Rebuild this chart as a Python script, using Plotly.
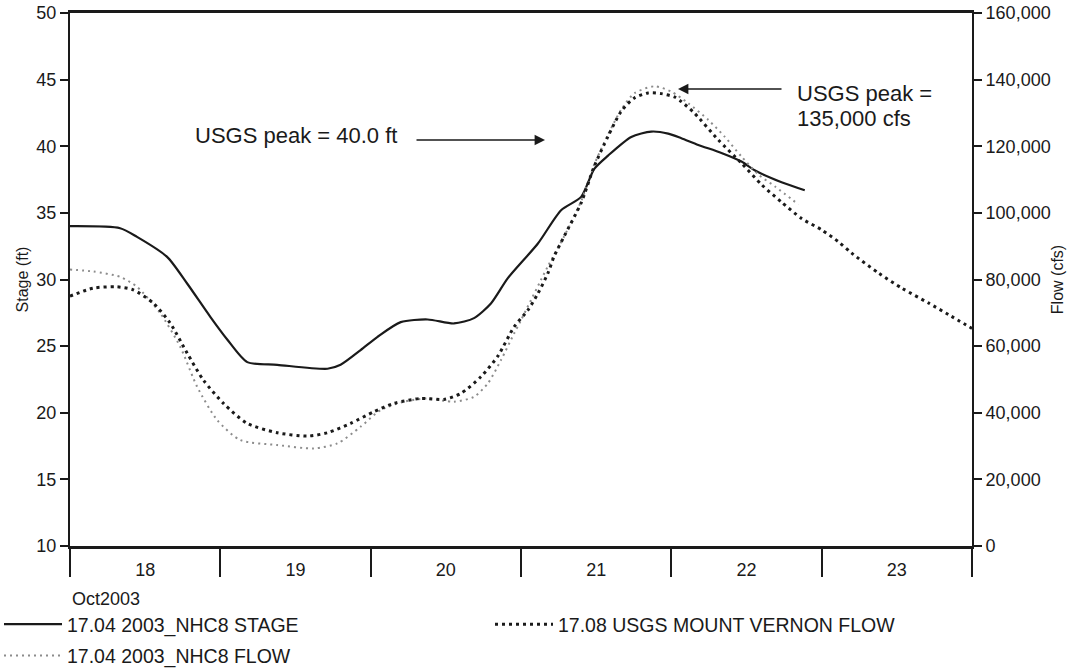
import pandas as pd
import plotly.graph_objects as go

START = pd.Timestamp("2003-10-18")

# ---- data (hours after 18 Oct 2003 00:00) ----
stage_hours = [0, 8.0, 10.7, 15.5, 18.7, 22.4, 25.1, 28.3, 33.1, 41.1, 43.2, 46.4, 49.1,
               52.8, 57.1, 61.3, 64.5, 67.2, 69.9, 74.7, 78.4, 81.6, 83.7, 85.9, 89.6,
               92.8, 95.5, 97.6, 100.3, 104.0, 107.2, 109.3, 113.6, 117.3]
stage_ft = [34.0, 33.85, 33.2, 31.7, 29.7, 27.2, 25.5, 23.8, 23.6, 23.3, 23.6, 24.7, 25.7,
            26.8, 27.0, 26.7, 27.1, 28.2, 30.1, 32.7, 35.2, 36.2, 38.3, 39.3, 40.7,
            41.1, 40.95, 40.6, 40.1, 39.5, 38.85, 38.2, 37.3, 36.7]

usgs_hours = [0, 3.7, 7.5, 10.1, 13.3, 16.0, 18.7, 21.3, 24.5, 28.3, 33.1, 37.9, 41.1,
              44.8, 48.5, 51.7, 56.0, 59.7, 62.4, 65.6, 68.3, 70.9, 73.1, 74.7, 76.3,
              77.3, 78.9, 81.6, 83.7, 85.9, 88.0, 90.1, 92.3, 94.4, 96.5, 97.6, 99.7,
              103.5, 107.2, 110.4, 113.6, 116.8, 120.0, 122.7, 124.8, 129.1, 132.8,
              137.1, 140.3, 144.0]
usgs_cfs = [75000, 77400, 77800, 76900, 72900, 66900, 57900, 49800, 42800, 36800, 34000,
            33000, 34000, 36800, 40300, 42800, 44300, 44000, 45800, 50800, 57000, 65800,
            70800, 75800, 81900, 87000, 93000, 103000, 114000, 123000, 130500, 134500,
            136000, 135800, 134800, 133400, 129900, 121900, 114900, 108500, 103200, 98300,
            94900, 91300, 87900, 81900, 77400, 72900, 69400, 65300]

nhc8_hours = [0, 3.7, 8.0, 10.7, 14.4, 17.6, 20.3, 23.5, 27.2, 33.1, 38.9, 42.7, 46.4,
              49.6, 53.3, 57.1, 61.3, 64.5, 66.7, 68.8, 70.9, 72.0, 76.3, 78.9, 81.6,
              83.7, 85.9, 88.0, 90.1, 93.3, 96.0, 98.7, 101.9, 104.5, 107.2, 109.9,
              112.5, 116.3]
nhc8_cfs = [83000, 82400, 80800, 77800, 69900, 59800, 47800, 37800, 31800, 30300, 29300,
            30800, 35800, 40800, 43300, 44300, 43300, 44800, 48800, 55800, 63800, 67800,
            84000, 93000, 103500, 114500, 123500, 131000, 135900, 138000, 136400, 132900,
            127900, 122900, 116900, 111500, 108000, 102500]

series_names = ["17.04 2003_NHC8 STAGE", "17.08 USGS MOUNT VERNON FLOW", "17.04 2003_NHC8 FLOW"]
day_count = 6


def to_time(hours):
    return START + pd.to_timedelta(hours, unit="h")


FONT = "Liberation Sans, Arial, Helvetica, sans-serif"
INK = "#1a1a1a"

fig = go.Figure()
fig.add_trace(go.Scatter(
    x=to_time(stage_hours), y=stage_ft, name=series_names[0], mode="lines",
    line=dict(color=INK, width=2.2, shape="spline", smoothing=0.7),
    legend="legend", legendgroup="a", legendrank=1))
fig.add_trace(go.Scatter(
    x=to_time(nhc8_hours), y=nhc8_cfs, name=series_names[2], mode="lines", yaxis="y2",
    line=dict(color="#8c8c8c", width=2, dash="2px,4px", shape="spline", smoothing=0.7),
    legend="legend", legendgroup="b", legendrank=2))
fig.add_trace(go.Scatter(
    x=to_time(usgs_hours), y=usgs_cfs, name=series_names[1], mode="lines", yaxis="y2",
    line=dict(color=INK, width=3, dash="3px,4px", shape="spline", smoothing=0.7),
    legend="legend2", legendgroup="c"))

W, H = 1076, 668
L, R, T, B = 70, 104, 13, 122
PW, PH = W - L - R, H - T - B


def px(x):
    return (x - L) / PW


def py(y):
    return (H - B - y) / PH


legend_common = dict(font=dict(size=19.5, family=FONT, color=INK), itemwidth=58,
                     bgcolor="rgba(0,0,0,0)", itemclick=False, itemdoubleclick=False,
                     xref="paper", yref="paper", xanchor="left", yanchor="top")

fig.update_layout(
    width=W, height=H,
    margin=dict(l=L, r=R, t=T, b=B, autoexpand=False),
    paper_bgcolor="white", plot_bgcolor="white",
    font=dict(family=FONT, color=INK, size=18),
    showlegend=True,
    legend=dict(orientation="v", x=px(-1), y=py(605), traceorder="grouped",
                tracegroupgap=3, **legend_common),
    legend2=dict(orientation="v", x=px(490), y=py(605), **legend_common),
    xaxis=dict(type="date", range=[START, START + pd.Timedelta(days=day_count)],
               tick0=START, dtick=86400000, tickformat="%d", ticklabelmode="period",
               ticks="outside", ticklen=28, tickwidth=1.5, tickcolor=INK,
               showline=True, linewidth=2.5, linecolor=INK, mirror=True,
               showgrid=False, zeroline=False, tickfont=dict(size=18),
               ticklabelstandoff=-22, automargin=False),
    yaxis=dict(range=[10, 50], dtick=5, ticks="outside", ticklen=8, tickwidth=1.5,
               tickcolor=INK, showline=True, linewidth=2, linecolor=INK,
               showgrid=False, zeroline=False, tickfont=dict(size=18), automargin=False,
               title=dict(text="Stage (ft)", font=dict(size=16), standoff=4)),
    yaxis2=dict(range=[0, 160000], dtick=20000, tickformat=",d", overlaying="y",
                side="right", ticks="outside", ticklen=8, tickwidth=1.5, tickcolor=INK,
                showline=True, linewidth=2, linecolor=INK, showgrid=False,
                zeroline=False, tickfont=dict(size=18), automargin=False,
                title=dict(text="Flow (cfs)", font=dict(size=16), standoff=2)),
)

ann = []
ann.append(dict(xref="paper", yref="paper", x=px(193), y=py(136), xanchor="left",
                yanchor="middle", text="USGS peak = 40.0 ft", showarrow=False,
                font=dict(size=22)))
ann.append(dict(xref="paper", yref="paper", x=px(545), y=py(140), text="",
                showarrow=True, ax=-130, ay=0, arrowhead=2, arrowsize=1.3,
                arrowwidth=1.6, arrowcolor=INK))
ann.append(dict(xref="paper", yref="paper", x=px(795), y=py(93), xanchor="left",
                yanchor="middle", text="USGS peak =", showarrow=False,
                font=dict(size=22)))
ann.append(dict(xref="paper", yref="paper", x=px(795), y=py(118), xanchor="left",
                yanchor="middle", text="135,000 cfs", showarrow=False,
                font=dict(size=22)))
ann.append(dict(xref="paper", yref="paper", x=px(678), y=py(89), text="",
                showarrow=True, ax=105, ay=0, arrowhead=2, arrowsize=1.3,
                arrowwidth=1.6, arrowcolor=INK))
ann.append(dict(xref="paper", yref="paper", x=px(70), y=py(599), xanchor="left",
                yanchor="middle", text="Oct2003", showarrow=False, font=dict(size=18)))
fig.update_layout(annotations=ann)

fig.write_html("out.html")
